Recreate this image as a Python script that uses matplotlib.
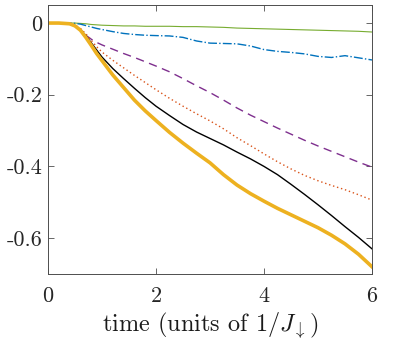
import matplotlib
matplotlib.use("Agg")
import matplotlib.pyplot as plt

plt.rcParams['font.family'] = ['cmr10', 'DejaVu Serif']
plt.rcParams['mathtext.fontset'] = 'cm'
plt.rcParams['axes.unicode_minus'] = False

# time axis (units of 1/J_down)
t = [0, 0.2, 0.4, 0.5, 0.6, 0.7, 0.8, 0.9, 1.0, 1.2, 1.4, 1.6, 1.8, 2.0, 2.25, 2.5, 2.75,
     3.0, 3.25, 3.5, 3.75, 4.0, 4.25, 4.5, 4.75, 5.0, 5.25, 5.5, 5.75, 6.0]

green = [0, 0, 0, 0, -0.001, -0.002, -0.004, -0.005, -0.006, -0.007, -0.008, -0.008, -0.009, -0.009, -0.009,
         -0.010, -0.010, -0.011, -0.012, -0.014, -0.015, -0.016, -0.017, -0.018, -0.019, -0.020, -0.021, -0.022, -0.023, -0.025]
blue = [0, 0, 0, -0.001, -0.003, -0.007, -0.011, -0.015, -0.018, -0.024, -0.029, -0.032, -0.034, -0.035, -0.036,
        -0.040, -0.050, -0.056, -0.057, -0.058, -0.064, -0.074, -0.079, -0.082, -0.086, -0.093, -0.096, -0.091, -0.097, -0.103]
purple = [0, 0, -0.002, -0.008, -0.020, -0.034, -0.045, -0.054, -0.061, -0.073, -0.085, -0.096, -0.108, -0.120, -0.136,
          -0.155, -0.175, -0.194, -0.215, -0.237, -0.257, -0.275, -0.293, -0.310, -0.327, -0.343, -0.358, -0.373, -0.388, -0.402]
orange = [0, 0, -0.002, -0.006, -0.015, -0.030, -0.048, -0.066, -0.081, -0.104, -0.125, -0.146, -0.166, -0.186, -0.210,
          -0.232, -0.253, -0.273, -0.295, -0.320, -0.342, -0.365, -0.387, -0.407, -0.425, -0.440, -0.453, -0.465, -0.479, -0.494]
black = [0, 0, -0.002, -0.007, -0.018, -0.035, -0.055, -0.075, -0.095, -0.127, -0.155, -0.182, -0.208, -0.232, -0.258,
         -0.283, -0.304, -0.322, -0.340, -0.360, -0.379, -0.400, -0.423, -0.450, -0.478, -0.507, -0.537, -0.568, -0.598, -0.630]
yellow = [0, 0, -0.002, -0.008, -0.020, -0.040, -0.062, -0.085, -0.105, -0.145, -0.180, -0.215, -0.245, -0.272, -0.305,
          -0.335, -0.363, -0.390, -0.423, -0.452, -0.476, -0.497, -0.517, -0.535, -0.553, -0.571, -0.592, -0.616, -0.645, -0.680]

xticks = [0, 2, 4, 6]
yticks = [-0.6, -0.4, -0.2, 0]
ytick_labels = ['-0.6', '-0.4', '-0.2', '0']

fig = plt.figure(figsize=(4.07, 3.42), dpi=100)
ax = fig.add_axes([0.118, 0.199, 0.796, 0.786])

ax.plot(t, green, color=(0.466, 0.674, 0.188), lw=0.8)
ax.plot(t, blue, color=(0.0, 0.447, 0.741), lw=1.0, ls='-.')
ax.plot(t, purple, color=(0.494, 0.184, 0.556), lw=1.0, ls=(0, (6, 4)))
ax.plot(t, orange, color=(0.85, 0.325, 0.098), lw=1.0, ls=(0, (1, 2)))
ax.plot(t, black, color='k', lw=1.0)
ax.plot(t, yellow, color=(0.929, 0.694, 0.125), lw=2.6)

ax.set_xlim(0, 6)
ax.set_ylim(-0.7, 0.05)
ax.set_xticks(xticks)
ax.set_xticklabels([str(v) for v in xticks])
ax.set_yticks(yticks)
ax.set_yticklabels(ytick_labels)
ax.tick_params(direction='in', top=True, right=True, length=4, width=0.6,
               colors='0.3', labelcolor='0.15', labelsize=16)
ax.tick_params(axis='x', pad=9)
ax.tick_params(axis='y', pad=4)
for s in ax.spines.values():
    s.set_color('0.3')
    s.set_linewidth(0.7)

ax.set_xlabel(r'time (units of $1/J_{\downarrow}$)', fontsize=17.5, color='0.1', labelpad=3)

fig.savefig('out.png', dpi=100)
